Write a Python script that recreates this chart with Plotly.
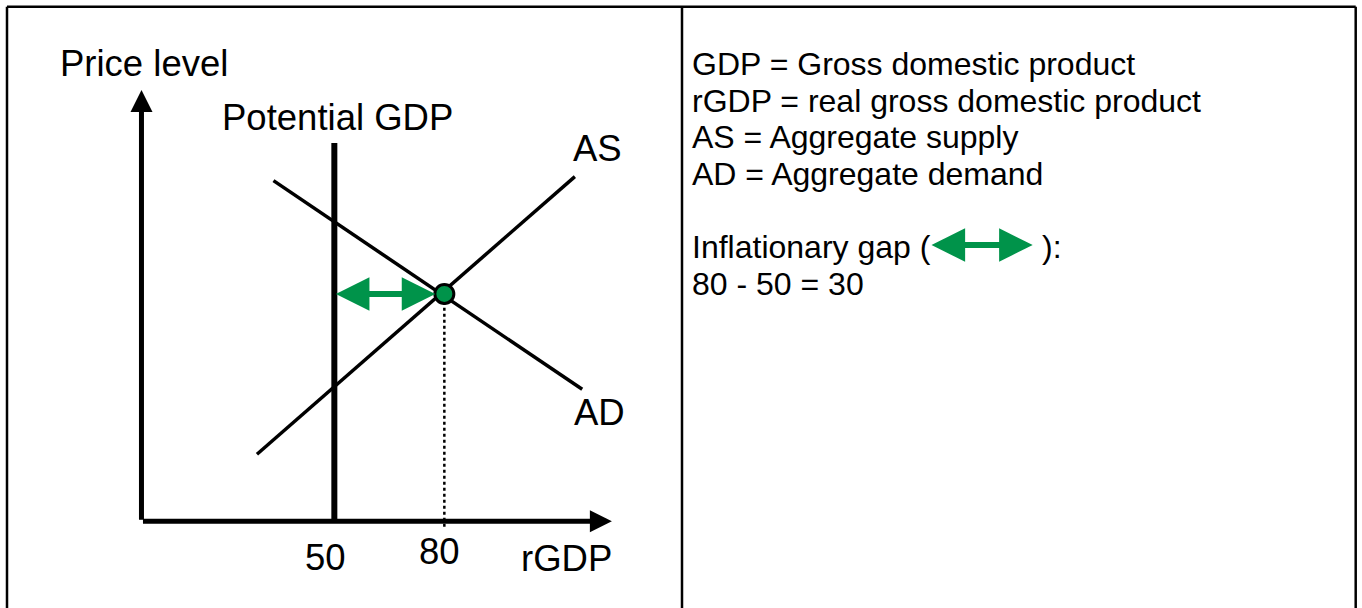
import plotly.graph_objects as go

# ---------------- data ----------------
potential_gdp = 50            # rGDP at potential output
equilibrium_gdp = 80          # rGDP where AD crosses AS
equilibrium_price = 62        # price level at the AD / AS crossing
inflationary_gap = equilibrium_gdp - potential_gdp

ad_x = [33.4, 117.6]          # aggregate demand (downward sloping)
ad_y = [92.9, 36.0]
as_x = [28.9, 115.6]          # aggregate supply (upward sloping)
as_y = [18.3, 94.0]
potential_top = 103.2         # top of the potential-GDP line

axis_origin = [-2.6, 0.0]
x_axis_end = 125.7
y_axis_end = 117.6
dotted_bottom = -1.5

tick_vals = [potential_gdp, equilibrium_gdp]
tick_text = [str(v) for v in tick_vals]

definitions = [
    "GDP = Gross domestic product",
    "rGDP = real gross domestic product",
    "AS = Aggregate supply",
    "AD = Aggregate demand",
]
gap_label = "Inflationary gap ("
gap_close = "):"
gap_formula = f"{equilibrium_gdp} - {potential_gdp} = {inflationary_gap}"

# ---------------- layout helpers ----------------
W, H = 1362, 608
PX_PER_UNIT = 3.6667
X0_PX = 151.0     # pixel column of rGDP = 0
Y0_PX = 521.3     # pixel row of price level = 0
x_range = [(0 - X0_PX) / PX_PER_UNIT, (W - X0_PX) / PX_PER_UNIT]
y_range = [(Y0_PX - H) / PX_PER_UNIT, Y0_PX / PX_PER_UNIT]


def pxx(x):
    return x / W


def pxy(y):
    return 1 - y / H


FONT = "Arial, 'Liberation Sans', Helvetica, sans-serif"
GREEN = "#00934A"
BLACK = "#000000"
GREEN_HEAD = 1.12
AXIS_HEAD = 0.88

fig = go.Figure()

fig.add_trace(go.Scatter(x=ad_x, y=ad_y, mode="lines",
                         line=dict(color=BLACK, width=3.5), hoverinfo="skip"))
fig.add_trace(go.Scatter(x=as_x, y=as_y, mode="lines",
                         line=dict(color=BLACK, width=3.5), hoverinfo="skip"))
fig.add_trace(go.Scatter(x=[potential_gdp, potential_gdp], y=[axis_origin[1], potential_top],
                         mode="lines", line=dict(color=BLACK, width=6), hoverinfo="skip"))
fig.add_trace(go.Scatter(x=[equilibrium_gdp, equilibrium_gdp], y=[dotted_bottom, equilibrium_price],
                         mode="lines", line=dict(color=BLACK, width=2.5, dash="dot"),
                         hoverinfo="skip"))
fig.add_trace(go.Scatter(x=[equilibrium_gdp], y=[equilibrium_price], mode="markers",
                         marker=dict(size=19, color=GREEN, line=dict(color=BLACK, width=3)),
                         hoverinfo="skip"))

annotations = []

# axes with arrow heads
for (tx, ty) in [(axis_origin[0], y_axis_end), (x_axis_end, axis_origin[1])]:
    annotations.append(dict(
        x=tx, y=ty, xref="x", yref="y",
        ax=axis_origin[0], ay=axis_origin[1], axref="x", ayref="y",
        text="", showarrow=True, arrowhead=2, arrowsize=AXIS_HEAD, arrowwidth=5,
        arrowcolor=BLACK, font=dict(size=1)))

# inflationary gap arrow in the chart
annotations.append(dict(
    x=equilibrium_gdp, y=equilibrium_price, xref="x", yref="y",
    ax=potential_gdp, ay=equilibrium_price, axref="x", ayref="y",
    text="", showarrow=True, arrowside="end+start",
    arrowhead=2, startarrowhead=2, arrowsize=GREEN_HEAD, startarrowsize=GREEN_HEAD,
    arrowwidth=6, arrowcolor=GREEN, standoff=9, startstandoff=0,
    font=dict(size=1)))

# chart labels
def label(text, cx, cy, size=36.5, xanchor="center"):
    annotations.append(dict(
        x=pxx(cx), y=pxy(cy), xref="paper", yref="paper", text=text,
        showarrow=False, xanchor=xanchor, yanchor="middle",
        font=dict(family=FONT, size=size, color=BLACK)))

label("Price level", 144, 63)
label("Potential GDP", 337.5, 118)
label("AS", 597, 148.5)
label("AD", 599, 412)
label("rGDP", 566.7, 558)

tick_px = {potential_gdp: (325.5, 557), equilibrium_gdp: (439, 551.5)}
for v, t in zip(tick_vals, tick_text):
    cx, cy = tick_px[v]
    label(t, cx, cy)

# right-hand notes
line_y = [63.7, 100.7, 137.3, 174]
for txt, y in zip(definitions, line_y):
    label(txt, 689.5, y, size=32, xanchor="left")
label(gap_label, 689.5, 246.7, size=32, xanchor="left")
label(gap_close, 1040, 246.7, size=32, xanchor="left")
label(gap_formula, 689.5, 284, size=32, xanchor="left")

annotations.append(dict(
    x=pxx(1032.7), y=pxy(245), xref="paper", yref="paper",
    ax=-(1032.7 - 930), ay=0, axref="pixel", ayref="pixel",
    text="", showarrow=True, arrowside="end+start",
    arrowhead=2, startarrowhead=2, arrowsize=GREEN_HEAD, startarrowsize=GREEN_HEAD,
    arrowwidth=6, arrowcolor=GREEN, font=dict(size=1)))

# frame / table borders
shapes = []
border = dict(color=BLACK, width=2.5)
for (x0, y0, x1, y1) in [(7, 6.8, 1355.7, 6.8), (7, 6.8, 7, 620),
                         (1355.7, 6.8, 1355.7, 620), (682, 6.8, 682, 620)]:
    shapes.append(dict(type="line", xref="paper", yref="paper",
                       x0=pxx(x0), y0=pxy(y0), x1=pxx(x1), y1=pxy(y1), line=border))

fig.update_layout(
    width=W, height=H, autosize=False,
    margin=dict(l=0, r=0, t=0, b=0, pad=0),
    paper_bgcolor="white", plot_bgcolor="white",
    showlegend=False,
    xaxis=dict(range=x_range, visible=False, fixedrange=True),
    yaxis=dict(range=y_range, visible=False, fixedrange=True),
    annotations=annotations, shapes=shapes,
)

fig.write_html(
    "out.html",
    config={"displayModeBar": False},
    post_script="document.body.style.margin='0';document.body.style.overflow='hidden';",
)
